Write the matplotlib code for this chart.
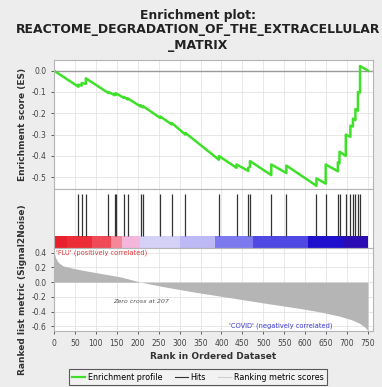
# GSEA enrichment plot - REACTOME degradation of the extracellular matrix
import matplotlib
matplotlib.use('Agg')
import matplotlib.pyplot as plt
from matplotlib.lines import Line2D

# Hit positions (rank in ordered dataset)
hits = [58, 66, 76, 130, 145, 148, 167, 176, 207, 213, 254, 281, 314, 394,
        436, 464, 468, 519, 555, 627, 649, 678, 682, 697, 708, 714, 720, 726, 731]

# Running enrichment score just before and just after each hit
es_before = [-0.075, -0.070, -0.062, -0.105, -0.115, -0.113, -0.128, -0.135,
             -0.168, -0.172, -0.222, -0.252, -0.300, -0.418, -0.456, -0.470,
             -0.452, -0.490, -0.480, -0.540, -0.530, -0.472, -0.435, -0.400,
             -0.310, -0.262, -0.232, -0.188, -0.103]
es_after = [-0.066, -0.058, -0.036, -0.100, -0.108, -0.106, -0.123, -0.130,
            -0.162, -0.167, -0.215, -0.245, -0.292, -0.400, -0.440, -0.455,
            -0.424, -0.440, -0.445, -0.505, -0.440, -0.430, -0.380, -0.300,
            -0.258, -0.225, -0.180, -0.100, 0.022]
es_start = 0.0
es_end = 0.0
n_genes = 750

# Ranked list metric (Signal2Noise)
metric_ranks = [0, 4, 10, 22, 45, 70, 110, 160, 207, 260, 330, 430, 520, 590,
                640, 680, 710, 730, 742, 750]
metric_vals = [0.41, 0.33, 0.27, 0.22, 0.19, 0.16, 0.12, 0.07, 0.0, -0.06,
               -0.13, -0.22, -0.30, -0.36, -0.41, -0.46, -0.51, -0.56, -0.61, -0.66]

# Colour bar under the hits (segment starts and colours)
bar_starts = [0, 30, 90, 135, 162, 205, 300, 385, 475, 607, 690]
bar_colors = ['#e8202c', '#ec2c36', '#f04a58', '#f48898', '#f5b6dc', '#d4d0f6',
              '#bdb9f4', '#7d7af0', '#5048e2', '#1e10cc', '#2c0cb4']

xticks = list(range(0, 800, 50))
es_ticks = [0.0, -0.1, -0.2, -0.3, -0.4, -0.5]
metric_ticks = [0.4, 0.2, 0.0, -0.2, -0.4, -0.6]

W, H = 382, 387
fig = plt.figure(figsize=(W / 100, H / 100), dpi=100)
fig.patch.set_facecolor('#ededed')

left = 54 / W
width = (373 - 54) / W
xlim = (0, 762)
grid_col = '#e4e4e4'
spine_col = '#b5b5b5'


def style(ax):
    ax.set_facecolor('white')
    for s in ax.spines.values():
        s.set_color(spine_col)
        s.set_linewidth(0.8)
    ax.tick_params(labelsize=5.5, colors='#444444', length=2, width=0.6)
    ax.set_xlim(xlim)


# Enrichment score panel
ax1 = fig.add_axes([left, 1 - 189 / H, width, 129 / H])
style(ax1)
x_es = [0]
y_es = [es_start]
for h, b, a in zip(hits, es_before, es_after):
    x_es += [h, h]
    y_es += [b, a]
x_es.append(n_genes)
y_es.append(es_end)
ax1.set_ylim(-0.555, 0.05)
ax1.set_yticks(es_ticks)
ax1.set_yticklabels(['%.1f' % v for v in es_ticks])
ax1.set_xticks(xticks)
ax1.tick_params(axis='x', labelbottom=False, length=0)
ax1.grid(True, color=grid_col, lw=0.6)
ax1.set_axisbelow(True)
ax1.axhline(0, color='#9a9a9a', lw=1.0)
ax1.plot(x_es, y_es, color='#3fe02a', lw=1.8)
ax1.set_ylabel('Enrichment score (ES)', fontsize=6.5, fontweight='bold', color='#333333', labelpad=3)

# Hits + colour bar panel
ax2 = fig.add_axes([left, 1 - 248 / H, width, 59 / H])
style(ax2)
ax2.set_ylim(0, 1)
ax2.set_xticks(xticks)
ax2.set_yticks([])
ax2.tick_params(axis='x', labelbottom=False, length=0)
ax2.grid(True, axis='x', color=grid_col, lw=0.6)
ax2.set_axisbelow(True)
ax2.vlines(hits, 0.2, 0.92, color='#333333', lw=0.9)
bar_ends = bar_starts[1:] + [n_genes]
for s, e, c in zip(bar_starts, bar_ends, bar_colors):
    ax2.axvspan(s, e, ymin=0, ymax=0.2, color=c, lw=0)

# Ranked list metric panel
ax3 = fig.add_axes([left, 1 - 331 / H, width, 83 / H])
style(ax3)
ax3.set_ylim(-0.665, 0.465)
ax3.set_yticks(metric_ticks)
ax3.set_yticklabels(['%.1f' % v for v in metric_ticks])
ax3.set_xticks(xticks)
ax3.grid(True, color=grid_col, lw=0.6)
ax3.set_axisbelow(True)
ax3.fill_between(metric_ranks, metric_vals, 0, color='#b5b5b5', lw=0)
ax3.text(5, 0.40, "'FLU' (positively correlated)", color='#e03a3a', fontsize=4.8, va='center')
ax3.text(207, -0.26, 'Zero cross at 207', color='#555555', fontsize=4.6, style='italic', ha='center', va='center')
ax3.text(666, -0.60, "'COVID' (negatively correlated)", color='#3a3ad0', fontsize=4.8, ha='right', va='center')
ax3.set_xlabel('Rank in Ordered Dataset', fontsize=6.5, fontweight='bold', color='#333333', labelpad=3)
ax3.set_ylabel('Ranked list metric (Signal2Noise)', fontsize=6.5, fontweight='bold', color='#333333', labelpad=3)

# Title
fig.text(198 / W, 1 - 30 / H, 'Enrichment plot:\nREACTOME_DEGRADATION_OF_THE_EXTRACELLULAR\n_MATRIX',
         ha='center', va='center', fontsize=8.9, fontweight='bold', color='#222222', linespacing=1.2)

# Legend
handles = [Line2D([], [], color='#3fe02a', lw=1.6),
           Line2D([], [], color='#333333', lw=0.8),
           Line2D([], [], color='#d0d0d0', lw=0.8)]
leg = fig.legend(handles, ['Enrichment profile', 'Hits', 'Ranking metric scores'],
                 loc='center', bbox_to_anchor=(198 / W, 1 - 377 / H), ncol=3, fontsize=5.8,
                 frameon=True, fancybox=False, handlelength=1.6, columnspacing=1.5,
                 handletextpad=0.4, borderpad=0.4)
leg.get_frame().set_edgecolor('#333333')
leg.get_frame().set_linewidth(0.8)
leg.get_frame().set_facecolor('#f4f4f4')

plt.savefig('out.png', dpi=100, facecolor=fig.get_facecolor())
